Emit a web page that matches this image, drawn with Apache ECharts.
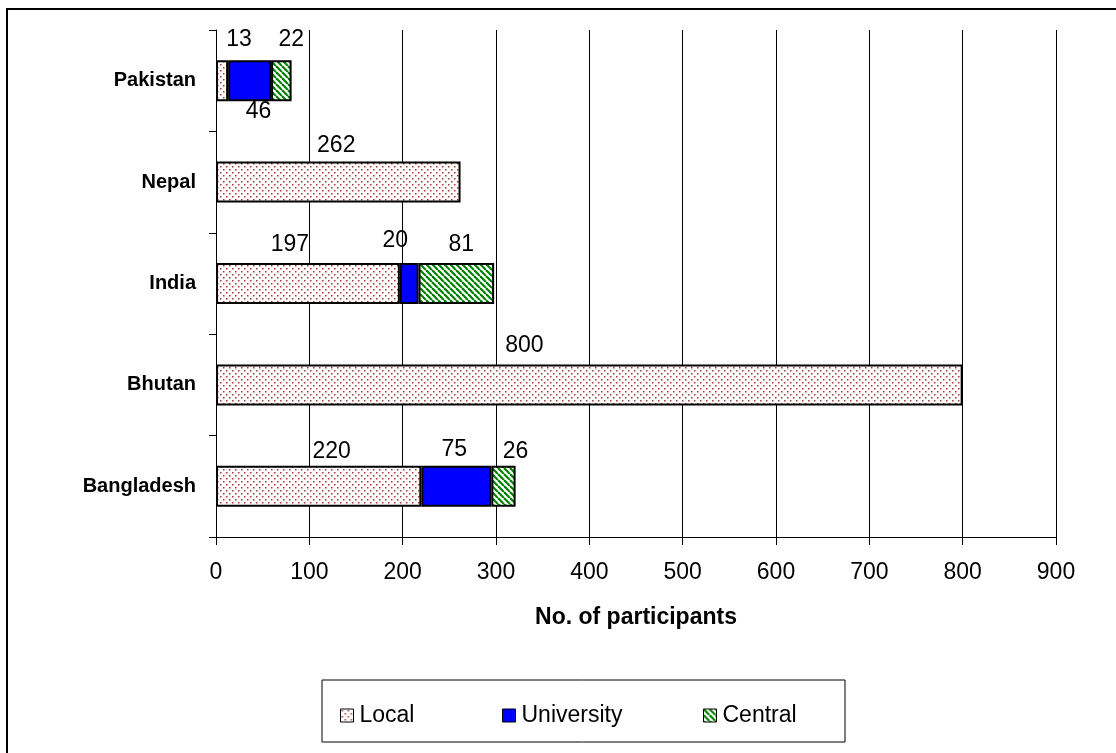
<!DOCTYPE html>
<html>
<head>
<meta charset="utf-8">
<script src="https://cdn.jsdelivr.net/npm/echarts@6/dist/echarts.min.js"></script>
<style>
  html, body { margin: 0; padding: 0; background: #fff; }
  #chart { width: 1116px; height: 753px; }
</style>
</head>
<body>
<div id="chart"></div>
<script>
// Participants per country, stacked by level
const countries = ['Bangladesh', 'Bhutan', 'India', 'Nepal', 'Pakistan'];
const localCounts = [220, 800, 197, 262, 13];
const universityCounts = [75, null, 20, null, 46];
const centralCounts = [26, null, 81, null, 22];
const seriesNames = ['Local', 'University', 'Central'];
const axisMin = 0;
const axisMax = 900;
const axisStep = 100;
const axisTitle = 'No. of participants';

const FONT = '"Liberation Sans", Arial, sans-serif';

// Fill patterns: red dots on white, and green diagonal hatching
function dotTile() {
  const c = document.createElement('canvas');
  c.width = 6; c.height = 6;
  const g = c.getContext('2d');
  g.fillStyle = '#fff'; g.fillRect(0, 0, 6, 6);
  g.fillStyle = '#a83434';
  g.fillRect(1, 1, 1.5, 1.5);
  g.fillRect(4, 4, 1.5, 1.5);
  return c;
}
function hatchTile() {
  const c = document.createElement('canvas');
  c.width = 6; c.height = 6;
  const g = c.getContext('2d');
  g.fillStyle = '#fff'; g.fillRect(0, 0, 6, 6);
  g.strokeStyle = '#008000';
  g.lineWidth = 2.2;
  for (let x = -6; x <= 6; x += 6) {
    g.beginPath(); g.moveTo(x, 0); g.lineTo(x + 6, 6); g.stroke();
  }
  return c;
}
const fills = [
  { image: dotTile(), repeat: 'repeat' },
  '#0000ff',
  { image: hatchTile(), repeat: 'repeat' }
];

// Hand-placed value labels: [dx, dy, position, distance] per bar
const labelPlacement = [
  [[13, 2], [-65, -2], [-18, -2], [-2, 1], [17, -4]],
  [[-2, 0], null, [-14, -6], null, [9, -1, 'bottom', 0]],
  [[12, 2], null, [5, -2], null, [10, -4]]
];

function buildSeries(idx, values) {
  return {
    name: seriesNames[idx],
    type: 'bar',
    stack: 'total',
    barWidth: 41,
    itemStyle: { color: fills[idx], borderColor: '#000', borderWidth: 2 },
    data: values.map((v, i) => {
      const p = labelPlacement[idx][i];
      if (v == null) return null;
      return {
        value: v,
        label: {
          show: true,
          position: (p && p[2]) || 'top',
          distance: (p && p[3] != null) ? p[3] : 5,
          offset: p ? [p[0], p[1]] : [0, 0],
          color: '#000',
          fontSize: 23,
          fontFamily: FONT
        }
      };
    })
  };
}

function legendAt(name, left) {
  return {
    data: [name],
    left: left,
    top: 699,
    itemWidth: 13,
    itemHeight: 13,
    itemGap: 0,
    icon: 'rect',
    selectedMode: false,
    itemStyle: { borderColor: '#000', borderWidth: 1 },
    textStyle: { color: '#000', fontSize: 23, fontFamily: FONT, padding: [0, 0, 0, 1] }
  };
}

const chart = echarts.init(document.getElementById('chart'), null, { renderer: 'canvas' });
chart.setOption({
  animation: false,
  backgroundColor: '#fff',
  grid: { left: 216, right: 60, top: 30, bottom: 216, containLabel: false },
  xAxis: {
    type: 'value',
    min: axisMin, max: axisMax, interval: axisStep,
    name: axisTitle,
    nameLocation: 'middle',
    nameGap: 69,
    nameTextStyle: { color: '#000', fontSize: 23, fontWeight: 'bold', fontFamily: FONT },
    axisLine: { show: true, lineStyle: { color: '#000', width: 1 } },
    axisTick: { show: true, length: 8, lineStyle: { color: '#000' } },
    axisLabel: { color: '#000', fontSize: 23, margin: 24, fontFamily: FONT },
    splitLine: { show: true, lineStyle: { color: '#000', width: 1 } }
  },
  yAxis: {
    type: 'category',
    data: countries,
    axisLine: { show: true, lineStyle: { color: '#000', width: 1 } },
    axisTick: { show: true, length: 7, lineStyle: { color: '#000' } },
    axisLabel: { color: '#000', fontSize: 20, fontWeight: 'bold', margin: 20, fontFamily: FONT }
  },
  legend: [
    legendAt(seriesNames[0], 335),
    legendAt(seriesNames[1], 497),
    legendAt(seriesNames[2], 698)
  ],
  graphic: [
    { type: 'rect', shape: { x: 7, y: 9, width: 1200, height: 800 },
      style: { fill: 'none', stroke: '#000', lineWidth: 2 }, silent: true, z: 100 },
    { type: 'rect', shape: { x: 322, y: 680, width: 523, height: 62 },
      style: { fill: 'none', stroke: '#000', lineWidth: 1 }, silent: true, z: 100 }
  ],
  series: [
    buildSeries(0, localCounts),
    buildSeries(1, universityCounts),
    buildSeries(2, centralCounts)
  ]
});
</script>
</body>
</html>
